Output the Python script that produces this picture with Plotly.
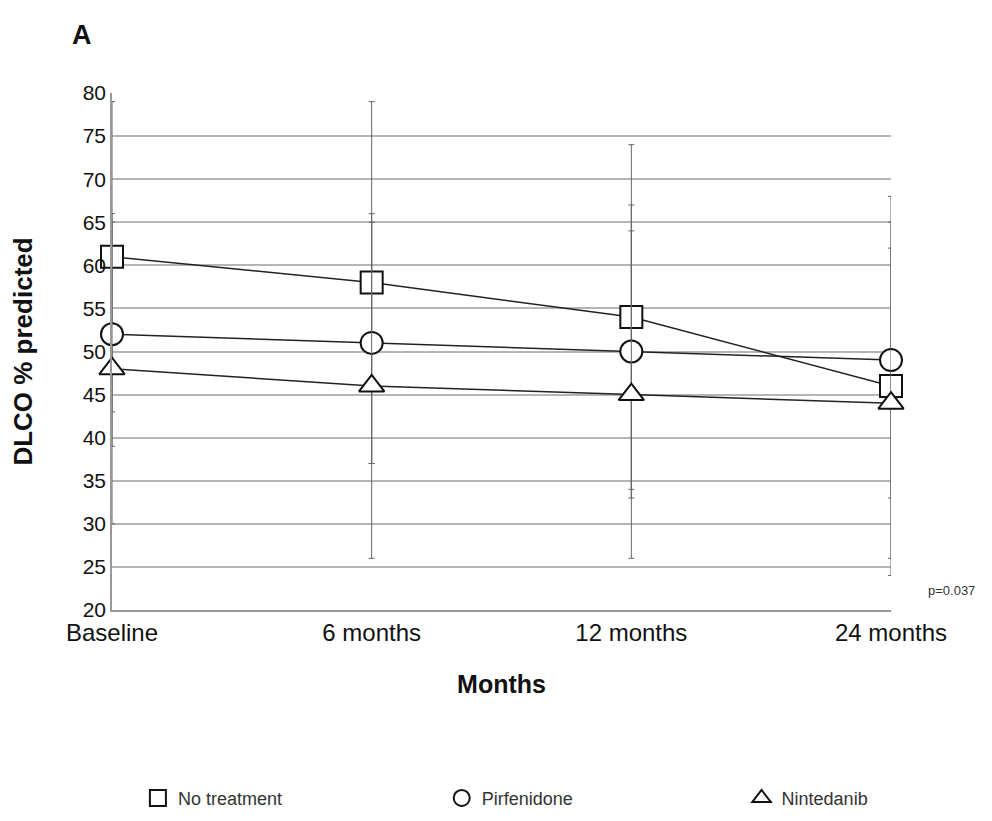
import plotly.graph_objects as go

months = ["Baseline", "6 months", "12 months", "24 months"]
no_treatment = [61, 58, 54, 46]
no_treatment_sd = [18, 21, 20, 22]
pirfenidone = [52, 51, 50, 49]
pirfenidone_sd = [13, 14, 17, 16]
nintedanib = [48, 46, 45, 44]
nintedanib_sd = [18, 20, 19, 18]
y_ticks = [20, 25, 30, 35, 40, 45, 50, 55, 60, 65, 70, 75, 80]

series = [
    ("No treatment", no_treatment, no_treatment_sd, "square"),
    ("Pirfenidone", pirfenidone, pirfenidone_sd, "circle"),
    ("Nintedanib", nintedanib, nintedanib_sd, "triangle-up"),
]

# page has 8px body margin; plot area target: x 111..891, y 93..612 (screen px)
L, T, W, H = 101, 85, 782, 519
def px(xs):
    return (xs - 8 - L) / W
def py(ys):
    return (T + H - (ys - 8)) / H

fig = go.Figure()
for name, vals, sd, sym in series:
    fig.add_trace(go.Scatter(
        x=months, y=vals, mode="lines+markers", name=name, showlegend=False,
        line=dict(color="#222222", width=1.5),
        marker=dict(symbol=sym, size=22, color="white",
                    line=dict(color="#111111", width=2)),
        error_y=dict(type="data", array=sd, symmetric=True, color="#666666",
                     thickness=1, width=3),
        cliponaxis=False,
    ))

legend_names = ["legend", "legend2", "legend3"]
legend_x = [135, 440, 741]
for (name, vals, sd, sym), lg in zip(series, legend_names):
    fig.add_trace(go.Scatter(
        x=[None], y=[None], mode="markers", name=name, showlegend=True, legend=lg,
        marker=dict(symbol=sym, size=16, color="white",
                    line=dict(color="#111111", width=2)),
    ))

legend_common = dict(orientation="h", xanchor="left", yanchor="middle",
                     font=dict(size=18, color="#333333"), itemsizing="trace",
                     bgcolor="rgba(0,0,0,0)")
fig.update_layout(
    width=992, height=821,
    margin=dict(l=L, r=992 - L - W, t=T, b=821 - T - H),
    paper_bgcolor="white", plot_bgcolor="white",
    font=dict(family="Liberation Sans, Arial, sans-serif", color="#111111"),
    showlegend=True,
    legend=dict(x=px(legend_x[0]), y=py(801), **legend_common),
    legend2=dict(x=px(legend_x[1]), y=py(801), **legend_common),
    legend3=dict(x=px(legend_x[2]), y=py(801), **legend_common),
)
fig.add_annotation(text="<b>A</b>", xref="paper", yref="paper",
                   x=px(79), y=py(35), showarrow=False,
                   font=dict(size=27, color="#111111"), xanchor="center", yanchor="middle")
fig.add_annotation(text="p=0.037", xref="paper", yref="paper",
                   x=px(952), y=py(592), showarrow=False,
                   font=dict(size=13, color="#333333"), xanchor="center", yanchor="middle")

fig.update_xaxes(
    type="category", range=[0, 3], showgrid=False, zeroline=False,
    showline=True, linecolor="#999999", linewidth=1.5,
    tickfont=dict(size=24, color="#111111"), ticks="",
    title=dict(text="<b>Months</b>", font=dict(size=25, color="#111111"), standoff=31),
)
fig.update_yaxes(
    range=[20, 80], tickvals=y_ticks, showgrid=True, gridcolor="#b5b5b5", gridwidth=2,
    zeroline=False, showline=True, linecolor="#999999", linewidth=1.5,
    tickfont=dict(size=21, color="#111111"), ticks="",
    title=dict(text="<b>DLCO % predicted</b>", font=dict(size=26, color="#111111"), standoff=44),
)

fig.write_html("out.html")
